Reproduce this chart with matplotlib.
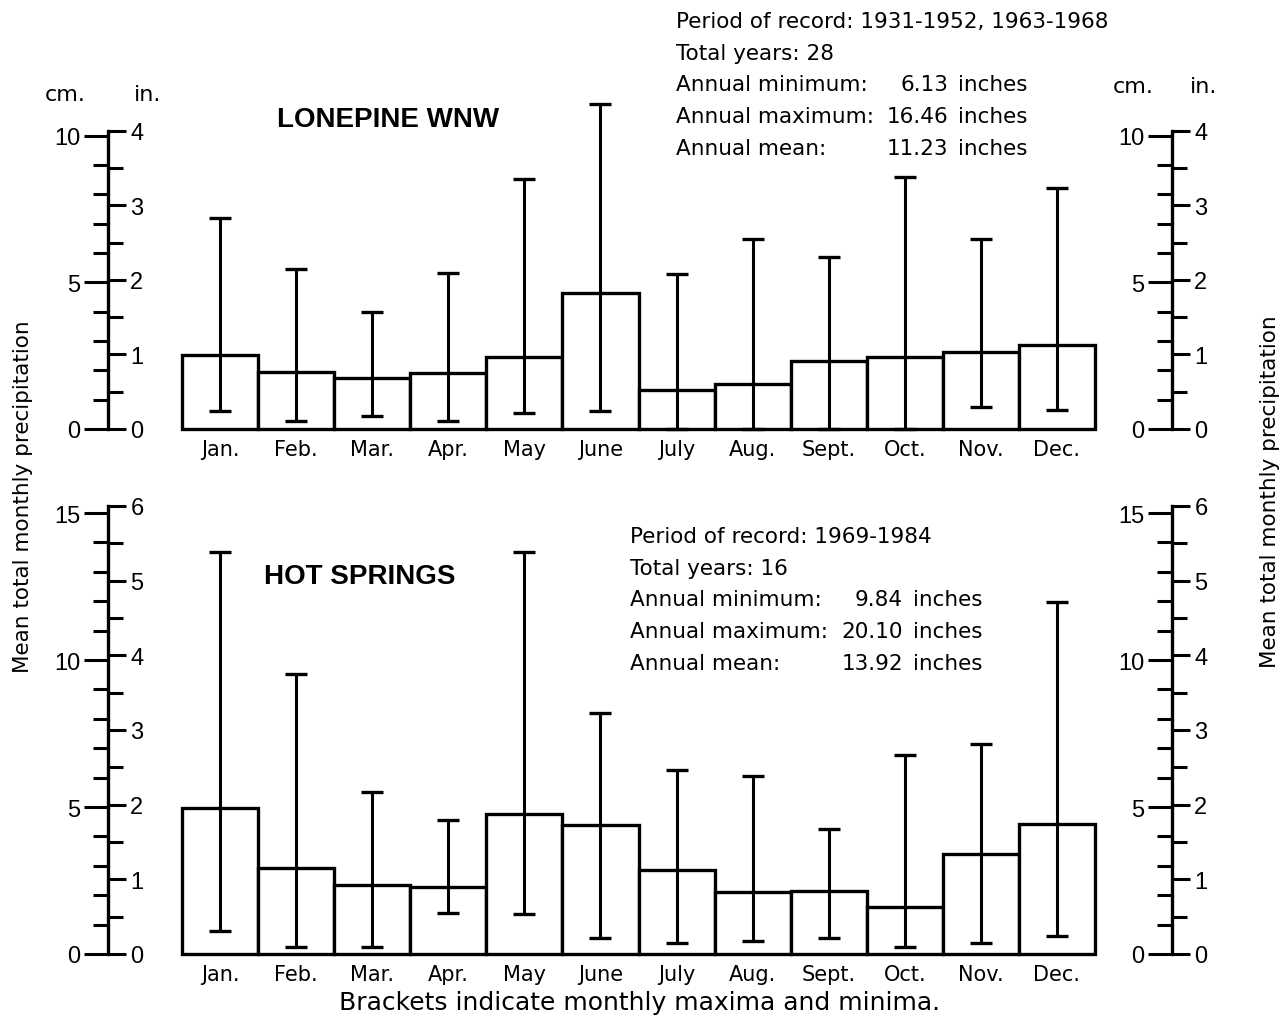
import numpy as np
import matplotlib
matplotlib.use("Agg")
import matplotlib.pyplot as plt
from matplotlib.ticker import FixedLocator, NullFormatter

plt.rcParams['font.family'] = ['DejaVu Sans']
TICKFONT = 'Liberation Sans'

months = ["Jan.", "Feb.", "Mar.", "Apr.", "May", "June",
          "July", "Aug.", "Sept.", "Oct.", "Nov.", "Dec."]

# Lonepine WNW, inches
lp_mean = [1.00, 0.76, 0.69, 0.75, 0.97, 1.83, 0.53, 0.61, 0.91, 0.97, 1.04, 1.13]
lp_max = [2.83, 2.15, 1.57, 2.10, 3.35, 4.36, 2.08, 2.55, 2.31, 3.38, 2.55, 3.23]
lp_min = [0.24, 0.11, 0.17, 0.11, 0.21, 0.24, 0.00, 0.00, 0.00, 0.00, 0.29, 0.25]
lp_info = [("Period of record: 1931-1952, 1963-1968", "", ""),
           ("Total years: 28", "", ""),
           ("Annual minimum:", "6.13", "inches"),
           ("Annual maximum:", "16.46", "inches"),
           ("Annual mean:", "11.23", "inches")]

# Hot Springs, inches
hs_mean = [1.95, 1.15, 0.93, 0.90, 1.88, 1.73, 1.13, 0.83, 0.84, 0.63, 1.34, 1.74]
hs_max = [5.38, 3.75, 2.17, 1.79, 5.39, 3.23, 2.47, 2.39, 1.68, 2.66, 2.81, 4.71]
hs_min = [0.31, 0.10, 0.10, 0.55, 0.53, 0.21, 0.15, 0.17, 0.21, 0.09, 0.15, 0.24]
hs_info = [("Period of record: 1969-1984", "", ""),
           ("Total years: 16", "", ""),
           ("Annual minimum:", "9.84", "inches"),
           ("Annual maximum:", "20.10", "inches"),
           ("Annual mean:", "13.92", "inches")]

W, H = 1286, 1020
fig = plt.figure(figsize=(W / 100, H / 100), dpi=100)


def fx(px):
    return px / W


def fy(py):
    return 1 - py / H


def scale_bar(xpix, base, top_in, ppi):
    # vertical bar: cm ticks to the left, inch ticks to the right
    sa = fig.add_axes([fx(xpix), fy(base), 1e-4, top_in * ppi / H])
    sa.set_ylim(0, top_in * 2.54)
    sa.set_xticks([])
    for s in ["top", "bottom", "right"]:
        sa.spines[s].set_visible(False)
    sa.spines["left"].set_linewidth(2.4)
    top_cm = int(top_in * 2.54)
    sa.yaxis.set_major_locator(FixedLocator(list(range(0, top_cm + 1, 5))))
    sa.yaxis.set_minor_locator(FixedLocator(list(range(0, top_cm + 1))))
    sa.yaxis.set_minor_formatter(NullFormatter())
    sa.tick_params(axis="y", which="major", direction="out", length=17,
                   width=2.2, labelsize=17, pad=3)
    sa.tick_params(axis="y", which="minor", direction="out", length=11, width=2.2)
    tw = sa.twinx()
    tw.set_ylim(0, top_in)
    for s in tw.spines.values():
        s.set_visible(False)
    tw.yaxis.set_major_locator(FixedLocator(list(range(0, top_in + 1))))
    tw.yaxis.set_minor_locator(FixedLocator(list(np.arange(0, top_in + 0.01, 0.5))))
    tw.yaxis.set_minor_formatter(NullFormatter())
    tw.tick_params(axis="y", which="major", direction="out", length=13,
                   width=2.2, labelsize=17, pad=3)
    tw.tick_params(axis="y", which="minor", direction="out", length=11, width=2.2)
    for lab in sa.get_yticklabels() + tw.get_yticklabels():
        lab.set_family(TICKFONT)


def panel(base, top_in, ppi, means, maxs, mins, title, title_xy, info, info_x, info_y, num_x):
    ax = fig.add_axes([fx(108), fy(base), fx(1172) - fx(108), top_in * ppi / H])
    ax.set_ylim(0, top_in)
    unit = (1095 - 182) / 12
    ax.set_xlim(-0.5 - (182 - 108) / unit, 11.5 + (1172 - 1095) / unit)
    for s in ax.spines.values():
        s.set_visible(False)
    ax.set_yticks([])
    x = np.arange(12)
    means = np.array(means)
    ax.bar(x, means, width=1.0, facecolor="white", edgecolor="black",
           linewidth=2.4, clip_on=False, zorder=2)
    ax.errorbar(x, means, yerr=[means - np.array(mins), np.array(maxs) - means],
                fmt="none", ecolor="black", elinewidth=2.2, capsize=8,
                capthick=2.4, clip_on=False, zorder=3)
    ax.set_xticks(x)
    ax.set_xticklabels(months, fontsize=15)
    ax.tick_params(axis="x", length=0, pad=7)

    scale_bar(108, base, top_in, ppi)
    scale_bar(1172, base, top_in, ppi)

    fig.text(fx(title_xy[0]), fy(title_xy[1]), title, fontsize=20,
             fontweight="bold", family="Liberation Sans", ha="center", va="center")
    for i, (lab, num, unit_txt) in enumerate(info):
        yy = fy(info_y + i * 31.7)
        fig.text(fx(info_x), yy, lab, fontsize=15.5, ha="left", va="center")
        if num:
            fig.text(fx(num_x), yy, num, fontsize=15.5, ha="right", va="center")
            fig.text(fx(num_x + 10), yy, unit_txt, fontsize=15.5, ha="left", va="center")


panel(430, 4, 74.5, lp_mean, lp_max, lp_min, "LONEPINE WNW", (388, 120),
      lp_info, 676, 22, 948)
panel(955, 6, 74.67, hs_mean, hs_max, hs_min, "HOT SPRINGS", (360, 577),
      hs_info, 630, 537, 903)

for txt, xp in [("cm.", 65), ("in.", 148)]:
    fig.text(fx(xp), fy(95), txt, fontsize=16, ha="center", va="center")
for txt, xp in [("cm.", 1133), ("in.", 1204)]:
    fig.text(fx(xp), fy(87), txt, fontsize=16, ha="center", va="center")

ylab = "Mean total monthly precipitation"
fig.text(fx(23), fy(497), ylab, rotation=90, fontsize=15.5, ha="center", va="center")
fig.text(fx(1270), fy(492), ylab, rotation=90, fontsize=15.5, ha="center", va="center")

fig.text(fx(640), fy(1003), "Brackets indicate monthly maxima and minima.",
         fontsize=18, ha="center", va="center")

fig.savefig("out.png", dpi=100, facecolor="white")
